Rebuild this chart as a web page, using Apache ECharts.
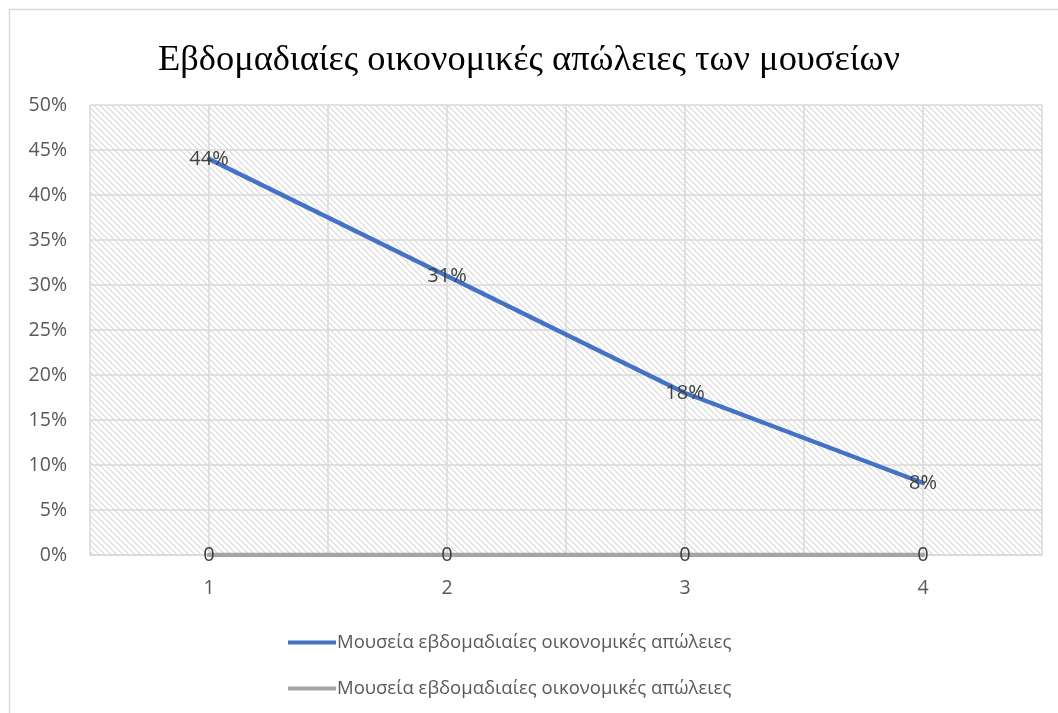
<!DOCTYPE html>
<html>
<head>
<meta charset="utf-8">
<script src="https://cdn.jsdelivr.net/npm/echarts@6/dist/echarts.min.js"></script>
<style>
html,body{margin:0;padding:0;background:#fff;}
#chart{width:1058px;height:713px;}
</style>
</head>
<body>
<div id="chart"></div>
<script>
const titleText = 'Εβδομαδιαίες οικονομικές απώλειες των μουσείων';
const seriesName = 'Μουσεία εβδομαδιαίες οικονομικές απώλειες';
const categories = [1, 2, 3, 4];
const lossValues = [0.44, 0.31, 0.18, 0.08];
const zeroValues = [0, 0, 0, 0];
const yTicks = ['0%', '5%', '10%', '15%', '20%', '25%', '30%', '35%', '40%', '45%', '50%'];

// hatch pattern tile
const tile = document.createElement('canvas');
const N = 6;
tile.width = N; tile.height = N;
const tc = tile.getContext('2d');
tc.fillStyle = '#ffffff';
tc.fillRect(0, 0, N, N);
for (let i = 0; i < N; i++) {
  tc.fillStyle = '#dedede';
  tc.fillRect(i, i, 1, 1);
  tc.fillStyle = '#e6e6e6';
  tc.fillRect((i + 1) % N, i, 1, 1);
}

const font = 'Open Sans';
const lineIcon = 'path://M0,0 L48,0 L48,4 L0,4 Z';
const chart = echarts.init(document.getElementById('chart'), null, {renderer: 'canvas'});
chart.setOption({
  backgroundColor: '#ffffff',
  animation: false,
  graphic: [{
    type: 'rect', silent: true, z: -10,
    shape: {x: 9.5, y: 9.5, width: 1100, height: 800},
    style: {fill: 'none', stroke: '#d9d9d9', lineWidth: 1.5}
  }],
  title: {
    text: titleText, left: 'center', top: 37,
    textStyle: {fontFamily: 'Liberation Serif', fontSize: 36.4, fontWeight: 'normal', color: '#000000'}
  },
  grid: {
    left: 90, right: 16, top: 105, bottom: 158,
    show: true, borderWidth: 0,
    backgroundColor: {image: tile, repeat: 'repeat'}
  },
  legend: {
    orient: 'vertical', left: 283, top: 628,
    itemWidth: 48, itemHeight: 14, itemGap: 27,
    data: [{name: seriesName, icon: lineIcon}, {name: seriesName + '\u200B', icon: lineIcon}],
    formatter: function (n) { return n.replace('\u200B', ''); },
    textStyle: {fontFamily: font, fontSize: 18.5, color: '#595959', padding: [0, 0, 0, -4]}
  },
  xAxis: {
    type: 'value', min: 0.5, max: 4.5, interval: 0.5,
    axisLine: {show: true, lineStyle: {color: '#d9d9d9', width: 1.5}},
    axisTick: {show: false},
    splitLine: {show: true, lineStyle: {color: '#d9d9d9', width: 1.5}},
    axisLabel: {
      margin: 23, fontFamily: font, fontSize: 19.5, color: '#595959',
      formatter: function (v) { return Number.isInteger(v) ? String(v) : ''; },
      showMinLabel: false, showMaxLabel: false
    }
  },
  yAxis: {
    type: 'value', min: 0, max: 0.5, interval: 0.05,
    axisLine: {show: false}, axisTick: {show: false},
    splitLine: {show: true, lineStyle: {color: '#d9d9d9', width: 1.5}},
    axisLabel: {
      margin: 23, fontFamily: font, fontSize: 19.5, color: '#595959',
      formatter: function (v) { return yTicks[Math.round(v / 0.05)]; }
    }
  },
  series: [{
    name: seriesName, type: 'line',
    data: categories.map((c, i) => [c, lossValues[i]]),
    symbol: 'circle', symbolSize: 0.1, showSymbol: true,
    lineStyle: {color: '#4472C4', width: 4.5, cap: 'round'},
    itemStyle: {color: '#4472C4'},
    label: {
      show: true, position: 'inside', fontFamily: font, fontSize: 20, color: '#404040',
      formatter: function (p) { return Math.round(p.value[1] * 100) + '%'; }
    },
    z: 3
  }, {
    name: seriesName + '\u200B', type: 'line',
    data: categories.map((c, i) => [c, zeroValues[i]]),
    symbol: 'circle', symbolSize: 0.1, showSymbol: true,
    lineStyle: {color: '#A5A5A5', width: 4.5, cap: 'round'},
    itemStyle: {color: '#A5A5A5'},
    label: {
      show: true, position: 'inside', fontFamily: font, fontSize: 20, color: '#404040',
      formatter: function (p) { return String(p.value[1]); }
    },
    z: 2
  }]
});
</script>
</body>
</html>
